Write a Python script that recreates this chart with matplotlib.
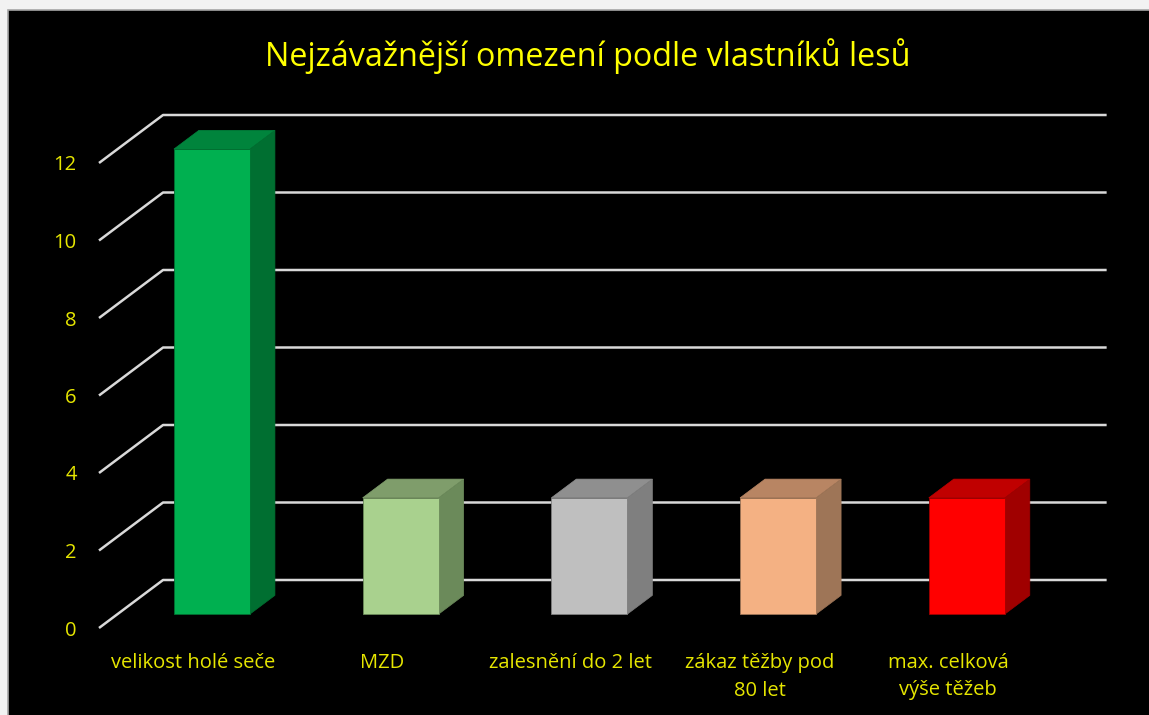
import numpy as np
import matplotlib
matplotlib.use("Agg")
from matplotlib import pyplot as plt
from matplotlib.patches import Polygon, Rectangle

# data
categories = ["velikost holé seče", "MZD", "zalesnění do 2 let",
              "zákaz těžby pod\n80 let", "max. celková\nvýše těžeb"]
values = [12, 3, 3, 3, 3]
yticks = [0, 2, 4, 6, 8, 10, 12]

front_cols = ["#00B050", "#A9D18E", "#BFBFBF", "#F4B183", "#FF0000"]
top_cols = ["#00843C", "#7F9D6B", "#8F8F8F", "#B88563", "#C00000"]
side_cols = ["#006F31", "#6B8A5A", "#7F7F7F", "#9E7557", "#A00000"]

plt.rcParams['font.family'] = ['Open Sans', 'DejaVu Sans']

W, H = 1149, 715
fig = plt.figure(figsize=(W / 100, H / 100), dpi=100, facecolor="#F2F2F2")

# black chart area with thin grey edge
fig.patches.append(Rectangle((8 / W, -0.01), 1.01 - 8 / W, 1.01 - 10 / H, transform=fig.transFigure,
                             facecolor="black", edgecolor="#A6A6A6", lw=1.2, zorder=-1))

# axes = front plane of the 3D box
ax = fig.add_axes([99 / W, 87 / H, 943.6 / W, 465 / H])
ax.set_xlim(-0.5, 4.5)
ax.set_ylim(0, 12)
ax.patch.set_visible(False)
for s in ax.spines.values():
    s.set_visible(False)

# depth offset (full depth of floor) in data units
DX = 64 / 188.6
DY = 48 / 38.75
grid_col = "#D9D9D9"

for v in yticks:
    # side wall diagonal + back wall line
    ax.plot([-0.5, -0.5 + DX, 4.5 + DX], [v, v + DY, v + DY], color=grid_col,
            lw=1.8, clip_on=False, zorder=1, solid_capstyle="butt")

# bars: front plane at depth d0, back at d1
d0, d1 = 0.29, 0.68
bw = 0.403
xs = np.arange(len(categories))
xf = xs + d0 * DX
yb = d0 * DY
ax.bar(xf, values, width=bw, bottom=yb, color=front_cols, edgecolor=side_cols,
       linewidth=0.6, clip_on=False, zorder=3)
dd = d1 - d0
for x, v, tc, sc in zip(xf, values, top_cols, side_cols):
    l, r, t = x - bw / 2, x + bw / 2, yb + v
    top = Polygon([(l, t), (r, t), (r + dd * DX, t + dd * DY), (l + dd * DX, t + dd * DY)],
                  closed=True, facecolor=tc, edgecolor=tc, lw=0.5, clip_on=False, zorder=2)
    side = Polygon([(r, yb), (r + dd * DX, yb + dd * DY), (r + dd * DX, t + dd * DY), (r, t)],
                   closed=True, facecolor=sc, edgecolor=sc, lw=0.5, clip_on=False, zorder=2)
    ax.add_patch(top)
    ax.add_patch(side)

label_col = "#E6E600"
ax.set_yticks(yticks)
ax.set_yticklabels([str(t) for t in yticks])
ax.set_xticks(xs)
ax.set_xticklabels(categories, linespacing=1.5)
ax.tick_params(axis="y", length=0, pad=16, labelsize=14.5, labelcolor=label_col)
ax.tick_params(axis="x", length=0, pad=18, labelsize=14.5, labelcolor=label_col)

fig.text(588 / W, 1 - 56 / H, "Nejzávažnější omezení podle vlastníků lesů",
         ha="center", va="center", fontsize=23.3, color="#FFFF00")

fig.savefig("out.png", dpi=100, facecolor=fig.get_facecolor())
